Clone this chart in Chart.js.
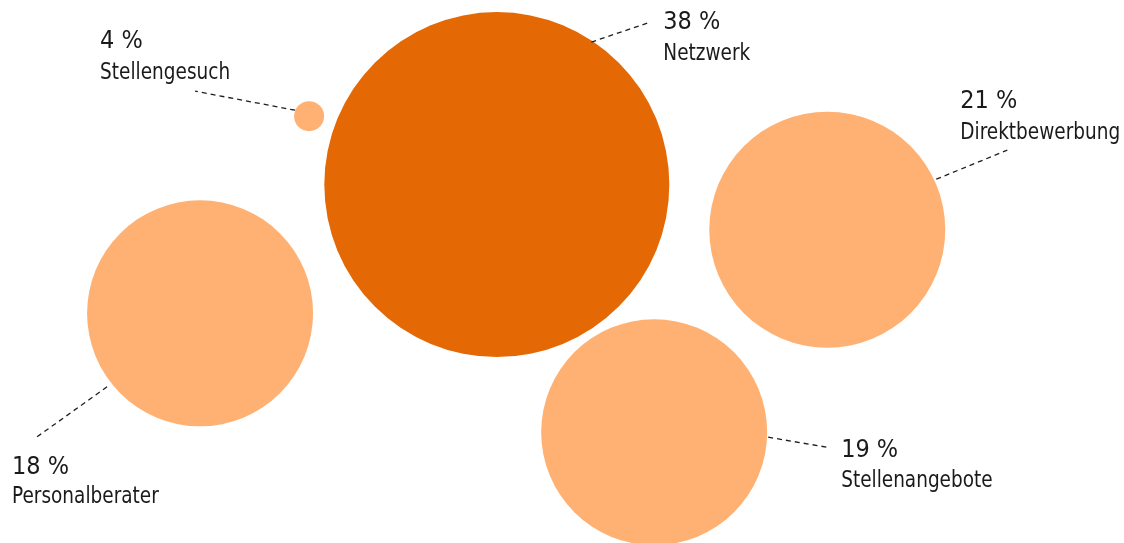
<!DOCTYPE html>
<html lang="de">
<head>
<meta charset="utf-8">
<title>Stellensuche – Kanäle</title>
<script src="https://cdn.jsdelivr.net/npm/chart.js@4/dist/chart.umd.min.js"></script>
<style>
  html, body { margin: 0; padding: 0; background: #fff; }
  #wrap { width: 1124px; height: 543px; }
</style>
</head>
<body>
<div id="wrap"><canvas id="bubbleChart" width="1124" height="543"></canvas></div>
<script>
// Kanäle und Anteile (in %)
const categories = ['Netzwerk', 'Direktbewerbung', 'Stellenangebote', 'Personalberater', 'Stellengesuch'];
const shares = [38, 21, 19, 18, 4];

// Lage der Blasen in Einheiten der (versteckten) Achsen 0..100
const posX = [44.2, 73.6, 58.2, 17.8, 27.5];
const posY = [34.0, 42.3, 79.6, 57.7, 21.4];
const bubbleSize = [172.5, 118, 113, 113, 15];

const darkOrange = '#e46804';
const lightOrange = '#ffb173';

// Beschriftung: Linie (von -> bis) und Text, relativ zum Blasenmittelpunkt
const labelLayout = [
    { line: [94.5, -142.5, 150.5, -161.5], tx: 166.5, pctY: -155.5, nameY: -124.5 },
    { line: [109, -50.5, 180, -79.5], tx: 133, pctY: -121.5, nameY: -90.5 },
    { line: [114, 5, 173, 15], tx: 187, pctY: 25, nameY: 55 },
    { line: [-93, 73.5, -163, 123.5], tx: -188, pctY: 160.5, nameY: 189.5 },
    { line: [-14, -6, -114, -25], tx: -209, pctY: -68, nameY: -37 }
];

const fontFamily = '"Liberation Sans Narrow", "DejaVu Sans Condensed", "DejaVu Sans", sans-serif';
const pctFont = '25px ' + fontFamily;
const nameFont = '23px ' + fontFamily;

const labelPlugin = {
    id: 'bubbleLabels',
    afterDatasetsDraw(chart) {
        const ctx = chart.ctx;
        const xs = chart.scales.x;
        const ys = chart.scales.y;
        ctx.save();

        // schmale Schrift wie im Original: horizontal stauchen, falls nötig
        ctx.font = nameFont;
        const sxName = Math.min(1, 130 / ctx.measureText('Stellengesuch').width);
        ctx.font = pctFont;
        const sxPct = Math.min(1, 57 / ctx.measureText('38 %').width);

        categories.forEach((name, i) => {
            const cx = xs.getPixelForValue(posX[i]);
            const cy = ys.getPixelForValue(posY[i]);
            const l = labelLayout[i];

            // gestrichelte Verbindungslinie
            ctx.beginPath();
            ctx.setLineDash([5, 4]);
            ctx.lineWidth = 1.3;
            ctx.strokeStyle = '#1e1e1e';
            ctx.moveTo(cx + l.line[0], cy + l.line[1]);
            ctx.lineTo(cx + l.line[2], cy + l.line[3]);
            ctx.stroke();
            ctx.setLineDash([]);

            ctx.fillStyle = '#1a1a1a';
            ctx.textAlign = 'left';
            ctx.textBaseline = 'alphabetic';

            ctx.save();
            ctx.translate(cx + l.tx, 0);
            ctx.scale(sxPct, 1);
            ctx.font = pctFont;
            ctx.fillText(shares[i] + ' %', 0, cy + l.pctY);
            ctx.restore();

            ctx.save();
            ctx.translate(cx + l.tx, 0);
            ctx.scale(sxName, 1);
            ctx.font = nameFont;
            ctx.fillText(name, 0, cy + l.nameY);
            ctx.restore();
        });
        ctx.restore();
    }
};

function renderChart() {
    const ctx = document.getElementById('bubbleChart').getContext('2d');
    new Chart(ctx, {
        type: 'bubble',
        data: {
            labels: categories,
            datasets: [{
                label: 'Anteil',
                data: categories.map((c, i) => ({ x: posX[i], y: posY[i], r: bubbleSize[i], v: shares[i] })),
                backgroundColor: shares.map((v, i) => i === 0 ? darkOrange : lightOrange),
                borderWidth: 0,
                hoverBorderWidth: 0,
                clip: false
            }]
        },
        options: {
            responsive: false,
            animation: false,
            layout: { padding: 0, autoPadding: false },
            plugins: {
                legend: { display: false },
                tooltip: { enabled: false }
            },
            scales: {
                x: { type: 'linear', min: 0, max: 100, display: false },
                y: { type: 'linear', min: 0, max: 100, reverse: true, display: false }
            }
        },
        plugins: [labelPlugin]
    });
}

document.addEventListener('DOMContentLoaded', () => {
    renderChart();
});
</script>
</body>
</html>
